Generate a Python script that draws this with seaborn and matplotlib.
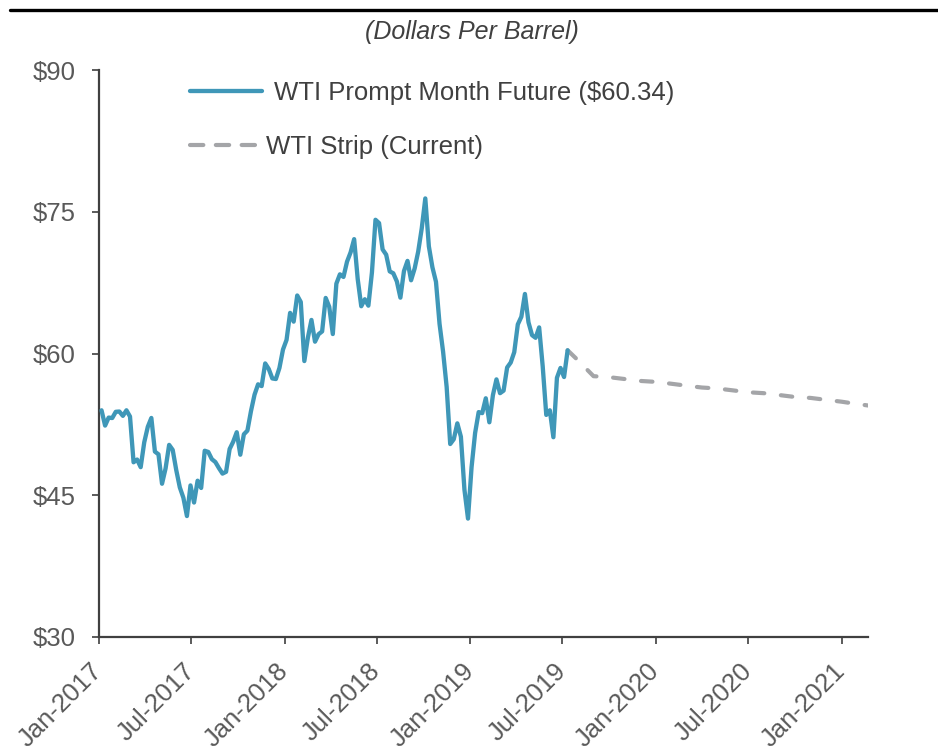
import matplotlib
matplotlib.use('Agg')
import matplotlib.dates as mdates
import matplotlib.pyplot as plt
from matplotlib.lines import Line2D
from matplotlib.ticker import FuncFormatter
import numpy as np
import pandas as pd
import seaborn as sns

# weekly (Friday) closes of the prompt month future, Jan-2017 .. Jul-2019
prompt_2017 = [53.99, 52.37, 53.22, 53.17, 53.83, 53.86, 53.40, 53.99, 53.33, 48.49,
               48.78, 47.97, 50.60, 52.24, 53.18, 49.62, 49.33, 46.22, 47.84, 50.33,
               49.80, 47.66, 45.83, 44.74, 42.80, 46.04, 44.23, 46.54, 45.77, 49.71,
               49.58, 48.82, 48.51, 47.87, 47.29, 47.48, 49.89, 50.66, 51.67, 49.29,
               51.45, 51.84, 53.90, 55.64, 56.74, 56.55, 58.95, 58.36, 57.36, 57.30,
               58.47, 60.42]
prompt_2018 = [61.44, 64.30, 63.37, 66.14, 65.45, 59.20, 61.68, 63.55, 61.25, 62.04,
               62.34, 65.88, 64.94, 62.06, 67.39, 68.38, 68.10, 69.72, 70.70, 72.10,
               67.88, 65.00, 65.74, 65.06, 68.58, 74.15, 73.80, 71.01, 70.46, 68.69,
               68.49, 67.63, 65.91, 68.72, 69.80, 67.75, 68.99, 70.78, 73.25, 76.41,
               71.34, 69.12, 67.59, 63.14, 60.19, 56.46, 50.42, 50.93, 52.61, 51.20,
               45.59, 42.53]
prompt_2019 = [47.96, 51.59, 53.80, 53.69, 55.26, 52.72, 55.59, 57.26, 55.80, 56.07,
               58.52, 59.04, 60.14, 63.08, 63.89, 66.30, 63.30, 61.94, 61.66, 62.76,
               58.63, 53.50, 53.99, 51.14, 57.43, 58.47, 57.51, 60.34]
prompt_dates = pd.date_range('2017-01-06', '2019-07-12', freq='W-FRI')
prompt_values = prompt_2017 + prompt_2018 + prompt_2019

# forward strip (first point = latest prompt price)
strip_dates = pd.to_datetime(['2019-07-12', '2019-08-01', '2019-09-01', '2019-10-01',
                              '2019-11-01', '2019-12-01', '2020-01-01', '2020-02-01',
                              '2020-03-01', '2020-04-01', '2020-05-01', '2020-06-01',
                              '2020-07-01', '2020-08-01', '2020-09-01', '2020-10-01',
                              '2020-11-01', '2020-12-01', '2021-01-01', '2021-02-01',
                              '2021-03-01'])
strip_values = [60.34, 59.30, 57.60, 57.50, 57.30, 57.10, 57.00, 56.80, 56.60, 56.40,
                56.30, 56.10, 55.90, 55.80, 55.60, 55.40, 55.30, 55.10, 54.90, 54.65,
                54.45]

prompt_label = 'WTI Prompt Month Future ($60.34)'
strip_label = 'WTI Strip (Current)'
y_ticks = [30, 45, 60, 75, 90]

BLUE = '#3f97b8'
GREY = '#a4a5a8'
TEXT = '#595959'
SPINE = '#404040'

sns.set_style('ticks')
plt.rcParams['font.family'] = ['Liberation Sans', 'DejaVu Sans']

prompt_df = pd.DataFrame({'date': prompt_dates, 'price': prompt_values})
strip_df = pd.DataFrame({'date': strip_dates, 'price': strip_values})

fig = plt.figure(figsize=(9.38, 7.46), dpi=100)
ax = fig.add_axes([99 / 938, 1 - 637 / 746, 769 / 938, 567 / 746])

sns.lineplot(data=strip_df, x='date', y='price', ax=ax, color=GREY, lw=3.0,
             label=strip_label, dashes=False, zorder=2)
strip_line = ax.lines[-1]
strip_line.set_linestyle((0, (2.75, 4.0)))
strip_line.set_dash_capstyle('round')
sns.lineplot(data=prompt_df, x='date', y='price', ax=ax, color=BLUE, lw=3.1,
             label=prompt_label, zorder=3)

ax.set_xlim(pd.Timestamp('2017-01-01'), pd.Timestamp('2021-02-22'))
ax.set_ylim(30, 90)
ax.set_yticks(y_ticks)
ax.yaxis.set_major_formatter(FuncFormatter(lambda v, _: f'${v:.0f}'))
ax.xaxis.set_major_locator(mdates.MonthLocator(bymonth=[1, 7]))
ax.xaxis.set_major_formatter(mdates.DateFormatter('%b-%Y'))
ax.set_xlabel('')
ax.set_ylabel('')

sns.despine(ax=ax)
for side in ['left', 'bottom']:
    ax.spines[side].set_color(SPINE)
    ax.spines[side].set_linewidth(1.6)
ax.tick_params(axis='both', colors=SPINE, labelcolor=TEXT, labelsize=18.5,
               length=5, width=1.2, direction='out')
ax.tick_params(axis='y', pad=12)
ax.tick_params(axis='x', pad=17)
for lab in ax.get_xticklabels():
    lab.set_rotation(45)
    lab.set_ha('right')
    lab.set_va('center')
    lab.set_rotation_mode('anchor')

# two separate legend entries, the reference spaces them a bit differently
handles, labels = ax.get_legend_handles_labels()
h_prompt = handles[labels.index(prompt_label)]
h_strip = handles[labels.index(strip_label)]
if ax.get_legend():
    ax.get_legend().remove()

leg_x = (190 - 99) / 769
leg_prompt = ax.legend([h_prompt], [prompt_label], loc='center left',
                       bbox_to_anchor=(leg_x, (637 - 93) / 567), frameon=False,
                       fontsize=18.5, handlelength=2.8, handletextpad=0.45,
                       borderaxespad=0.0, borderpad=0.0)
ax.add_artist(leg_prompt)
leg_strip = ax.legend([h_strip], [strip_label], loc='center left',
                      bbox_to_anchor=(leg_x, (637 - 147) / 567), frameon=False,
                      fontsize=18.5, handlelength=2.8, handletextpad=0.15,
                      borderaxespad=0.0, borderpad=0.0)
for leg in [leg_prompt, leg_strip]:
    for txt in leg.get_texts():
        txt.set_color(SPINE)
leg_strip.get_lines()[0].set_linestyle((0, (3.2, 3.0)))
leg_strip.get_lines()[0].set_dash_capstyle('round')

fig.text(0.503, 1 - 32 / 746, '(Dollars Per Barrel)', ha='center', va='center',
         style='italic', fontsize=18, color=SPINE)
fig.add_artist(Line2D([10 / 938, 1.0], [1 - 10 / 746, 1 - 10 / 746],
                      transform=fig.transFigure, color='black', lw=2.4))

fig.savefig('out.png', dpi=100)
